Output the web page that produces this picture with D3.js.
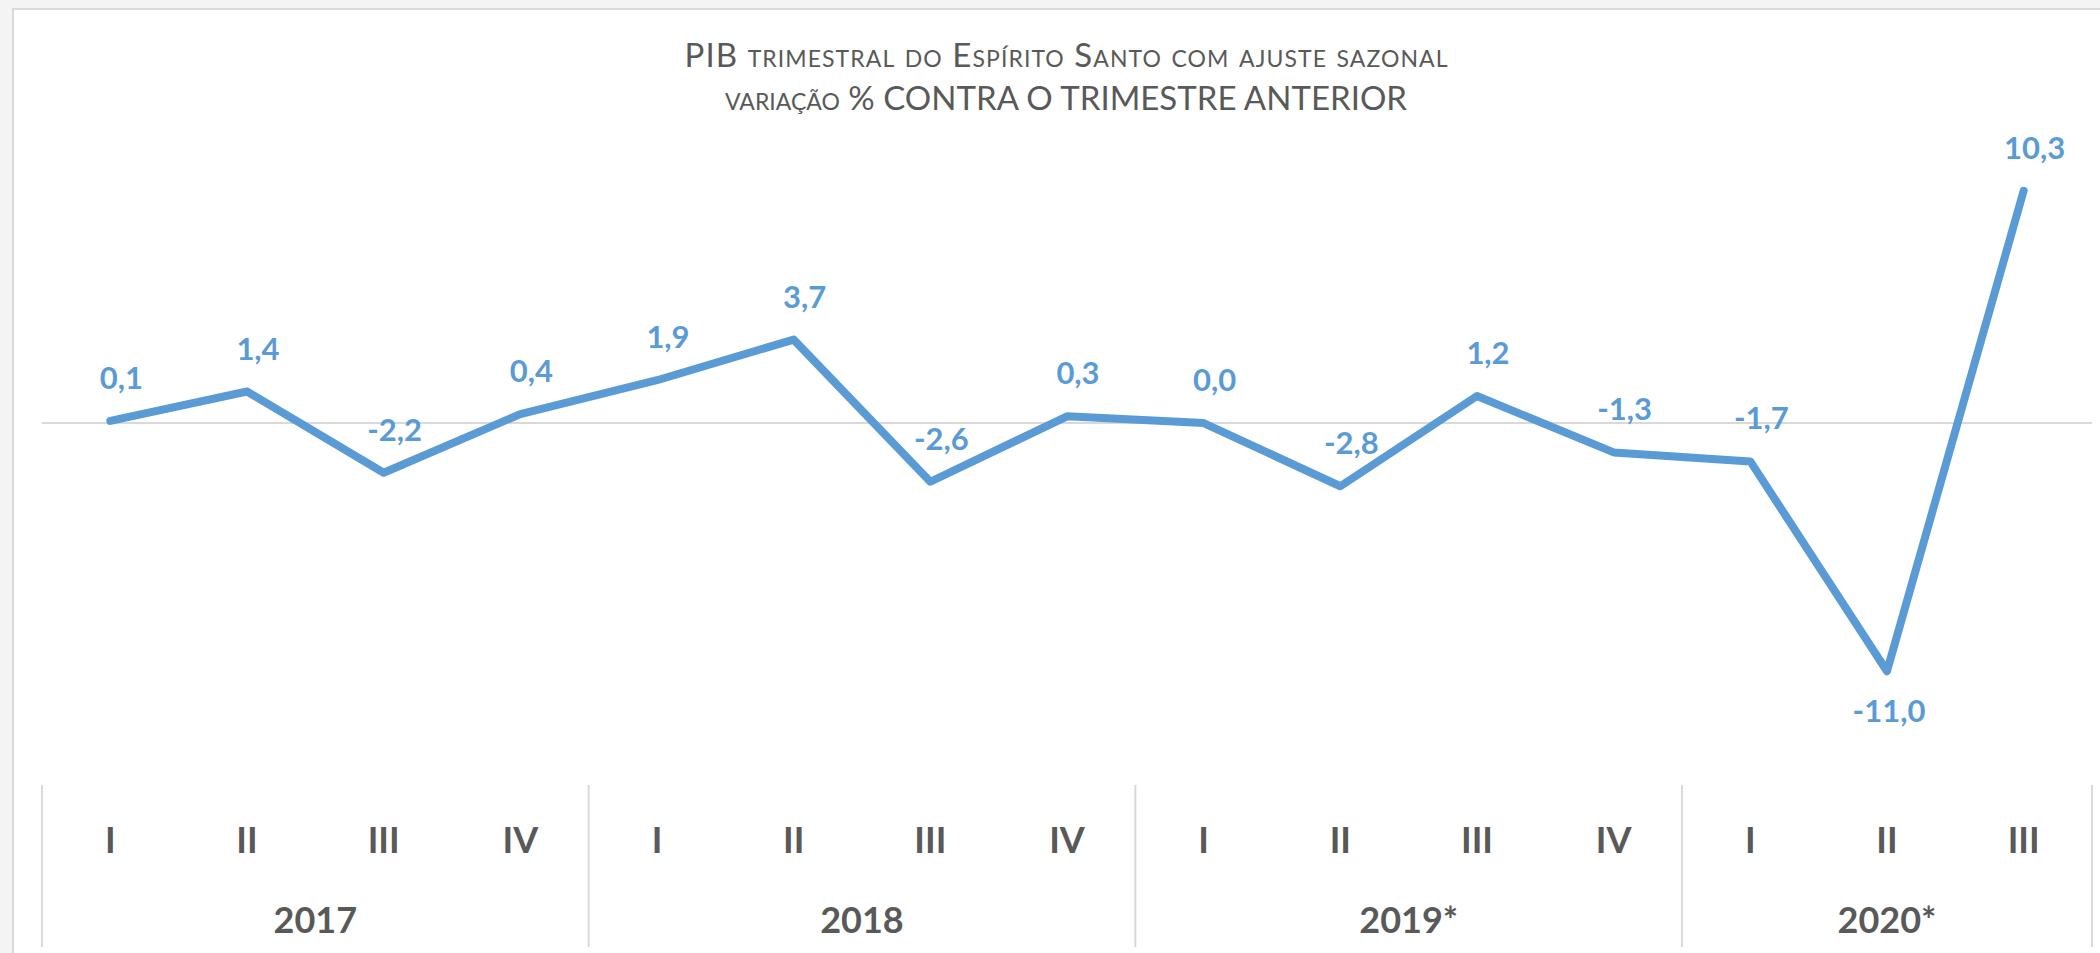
<!DOCTYPE html>
<html>
<head>
<meta charset="utf-8">
<script src="https://cdn.jsdelivr.net/npm/d3@7"></script>
<style>
  body { margin: 0; background: #f4f4f4; }
  svg { display: block; }
  text { font-family: Lato, "Open Sans", sans-serif; }
</style>
</head>
<body>
<div id="plot"></div>
<script>
// PIB trimestral ES, variacao % contra trimestre anterior
let quarters = ["I","II","III","IV","I","II","III","IV","I","II","III","IV","I","II","III"];
let years = ["2017","2018","2019*","2020*"];
let quartersPerYear = [4, 4, 4, 3];
let values = [0.1, 1.4, -2.2, 0.4, 1.9, 3.7, -2.6, 0.3, 0.0, -2.8, 1.2, -1.3, -1.7, -11.0, 10.3];
let titleLines = ["PIB trimestral do Espírito Santo com ajuste sazonal", "variação % CONTRA O TRIMESTRE ANTERIOR"];

let svgWidth = 2100;
let svgHeight = 953;
let blue = "#5b9bd5";
let grey = "#595959";
let lineGrey = "#d9d9d9";

let svg = d3.select('#plot')
    .append('svg')
    .attr('width', svgWidth)
    .attr('height', svgHeight);

// chart frame
svg.append('rect')
    .attr('x', 13).attr('y', 9)
    .attr('width', svgWidth + 20).attr('height', svgHeight + 20)
    .attr('fill', '#fff')
    .attr('stroke', lineGrey)
    .attr('stroke-width', 2);

let x = d3.scaleBand()
    .domain(d3.range(values.length))
    .range([42, 2092]);

let y = d3.scaleLinear()
    .domain([-16, 14])
    .range([784, 107.3]);

let cx = i => x(i) + x.bandwidth() / 2;

// title (widths matched to the original)
let titleWidths = [763, 682];
svg.append('g').selectAll('text')
    .data(titleLines)
    .enter()
    .append('text')
    .attr('x', 1066)
    .attr('y', (d, i) => 67 + i * 43)
    .attr('text-anchor', 'middle')
    .attr('font-size', 33)
    .attr('font-weight', 400)
    .attr('textLength', (d, i) => titleWidths[i])
    .attr('lengthAdjust', 'spacing')
    .style('font-variant', 'small-caps')
    .attr('fill', grey)
    .text(d => d);

// zero line
svg.append('line')
    .attr('x1', x.range()[0]).attr('x2', x.range()[1])
    .attr('y1', y(0)).attr('y2', y(0))
    .attr('stroke', lineGrey)
    .attr('stroke-width', 2);

// series
let line = d3.line()
    .x((d, i) => cx(i))
    .y(d => y(d));

svg.append('path')
    .datum(values)
    .attr('d', line)
    .attr('fill', 'none')
    .attr('stroke', blue)
    .attr('stroke-width', 8)
    .attr('stroke-linejoin', 'round')
    .attr('stroke-linecap', 'round');

// data labels
let minVal = d3.min(values);
let fmt = v => d3.format('.1f')(v).replace('.', ',').replace('−', '-');

svg.append('g').selectAll('text')
    .data(values)
    .enter()
    .append('text')
    .attr('x', (d, i) => cx(i) + (d === minVal ? 2 : 11))
    .attr('y', d => d === minVal ? y(d) + 51 : y(d) - 32)
    .attr('text-anchor', 'middle')
    .attr('font-size', 31)
    .attr('font-weight', 'bold')
    .attr('fill', blue)
    .text(d => fmt(d));

// category axis: quarters
svg.append('g').selectAll('text')
    .data(quarters)
    .enter()
    .append('text')
    .attr('x', (d, i) => cx(i))
    .attr('y', 853)
    .attr('text-anchor', 'middle')
    .attr('font-size', 36)
    .attr('font-weight', 'bold')
    .attr('fill', grey)
    .text(d => d);

// year groups
let starts = [];
let acc = 0;
quartersPerYear.forEach(function(n){
    starts.push(acc);
    acc += n;
});

let bounds = starts.map(s => x(s)).concat([x.range()[1]]);

svg.append('g').selectAll('line')
    .data(bounds)
    .enter()
    .append('line')
    .attr('x1', d => d).attr('x2', d => d)
    .attr('y1', 785).attr('y2', 947)
    .attr('stroke', lineGrey)
    .attr('stroke-width', 2);

svg.append('g').selectAll('text')
    .data(years)
    .enter()
    .append('text')
    .attr('x', (d, i) => (bounds[i] + bounds[i + 1]) / 2)
    .attr('y', 933)
    .attr('text-anchor', 'middle')
    .attr('font-size', 36)
    .attr('font-weight', 'bold')
    .attr('fill', grey)
    .text(d => d);
</script>
</body>
</html>
